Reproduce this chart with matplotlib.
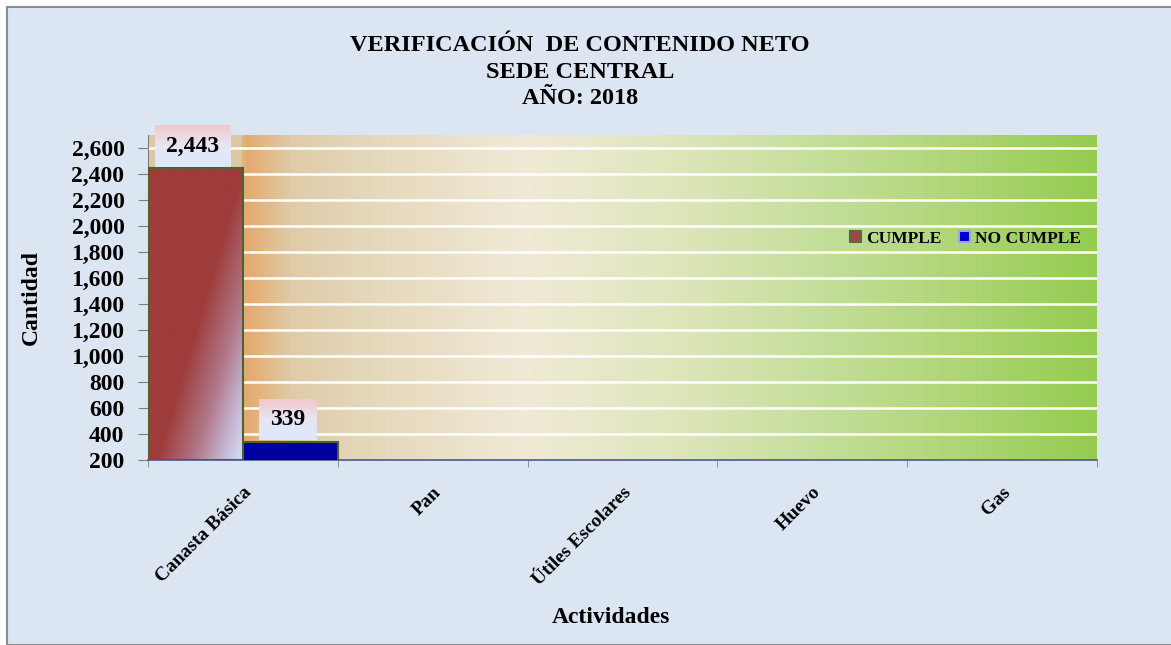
import numpy as np
import matplotlib
matplotlib.use("Agg")
import matplotlib.pyplot as plt
from matplotlib.colors import LinearSegmentedColormap
from matplotlib.patches import Rectangle

categorias = ["Canasta Básica", "Pan", "Útiles Escolares", "Huevo", "Gas"]
cumple = [2443, 0, 0, 0, 0]
no_cumple = [339, 0, 0, 0, 0]
series = ["CUMPLE", "NO CUMPLE"]
titulo = "VERIFICACIÓN  DE CONTENIDO NETO\nSEDE CENTRAL\nAÑO: 2018"
y_ticks = list(range(200, 2601, 200))

plt.rcParams['font.family'] = ['Liberation Serif', 'DejaVu Serif']
plt.rcParams['font.weight'] = 'bold'

fig = plt.figure(figsize=(11.71, 6.45), dpi=100)
fig.patch.set_facecolor('white')
# fondo del grafico con borde
fig.patches.append(Rectangle((7 / 1171, 0), 1.0, 1 - 7 / 645, transform=fig.transFigure,
                             facecolor='#dce6f2', edgecolor='#8c8c8c', lw=1.5, zorder=-10))

ax = fig.add_axes([148 / 1171, 1 - 460 / 645, (1097 - 148) / 1171, (460 - 135) / 645])
XL = (-0.5, len(categorias) - 0.5)
YL = (200, 2700)

# degradado del area de trazado
bg = LinearSegmentedColormap.from_list('bg', [
    (0.0, '#dcc8a4'), (0.095, '#dcc8a4'), (0.1, '#e4a86c'), (0.15, '#dfcba8'),
    (0.22, '#e4d6b8'), (0.4, '#f0ead6'), (0.55, '#dfe6bc'), (0.7, '#c6df9c'),
    (0.85, '#b0d678'), (1.0, '#94cc50')])
gx = np.linspace(0, 1, 800)
grad = np.tile(gx, (40, 1))
ax.imshow(grad, cmap=bg, extent=[XL[0], XL[1], YL[0], YL[1]],
          aspect='auto', origin='lower', zorder=0, interpolation='bilinear')

for yv in y_ticks[1:]:
    ax.axhline(yv, color='white', lw=1.8, zorder=1)

x = np.arange(len(categorias))
b1 = ax.bar(x - 0.25, cumple, width=0.5, color='#9b3b3b', edgecolor='#4f6228',
            lw=1.5, zorder=3, label=series[0])
b2 = ax.bar(x + 0.25, no_cumple, width=0.5, color='#0000a0', edgecolor='#4f6228',
            lw=1.5, zorder=3, label=series[1])

# degradado diagonal rojo -> azul claro en la barra CUMPLE
rojo = LinearSegmentedColormap.from_list('rb', [(0, '#9e3b3b'), (0.45, '#b07a8a'),
                                               (0.72, '#c4b0cc'), (1, '#d2e2fa')])
for rect in b1:
    h = rect.get_height()
    if h <= 200:
        continue
    x0 = rect.get_x()
    w = rect.get_width()
    px = np.linspace(0, 95, 120)
    py = np.linspace(0, (h - 200) / 200 * 26, 300)
    PX, PY = np.meshgrid(px, py)
    s = PX - 0.3 * PY
    t = np.clip((s - 8) / 88, 0, 1)
    im = ax.imshow(t, cmap=rojo, vmin=0, vmax=1, extent=[x0, x0 + w, 200, h],
                   aspect='auto', origin='lower', zorder=3.5, interpolation='bilinear')
    im.set_clip_path(rect)
    ax.add_patch(Rectangle((x0, 200), w, h - 200, fill=False, edgecolor='#4f6228',
                           lw=1.5, zorder=3.6))

ax.set_xlim(*XL)
ax.set_ylim(*YL)

# etiquetas de datos
etiquetas = []
for rects, vals in ((b1, cumple), (b2, no_cumple)):
    for rect, v in zip(rects, vals):
        if v <= 0:
            continue
        t = ax.annotate(f"{v:,}", (rect.get_x() + rect.get_width() / 2, v),
                        xytext=(-2, 16), textcoords='offset points', ha='center', va='center',
                        fontsize=17, fontweight='bold', zorder=7, annotation_clip=False)
        etiquetas.append(t)

ax.set_yticks(y_ticks)
ax.set_yticklabels([f"{v:,}" for v in y_ticks], fontsize=17, fontweight='bold')
ax.set_xticks(x)
ax.set_xticklabels(categorias, rotation=45, ha='right', rotation_mode='anchor',
                   fontsize=14, fontweight='bold')
ax.tick_params(axis='x', length=0, pad=17)
ax.set_xticks(np.arange(-0.5, len(categorias), 1), minor=True)
ax.tick_params(axis='x', which='minor', length=5, color='#7f7f7f', direction='out')
ax.tick_params(axis='y', length=7, color='#7f7f7f', direction='out', pad=10)

for sp in ['top', 'right']:
    ax.spines[sp].set_visible(False)
ax.spines['left'].set_color('#7f7f7f')
ax.spines['bottom'].set_color('#4a5a8a')
ax.spines['bottom'].set_linewidth(1.2)

ax.set_ylabel("Cantidad", fontsize=17, fontweight='bold')
ax.set_xlabel("Actividades", fontsize=17, fontweight='bold')
ax.xaxis.set_label_coords(0.488, -0.452)
ax.yaxis.set_label_coords(-0.112, 0.5)

fig.text(580 / 1171, 1 - 72 / 645, titulo, ha='center', va='center', fontsize=17.5,
         fontweight='bold', linespacing=1.32)

leg = ax.legend(loc='center right', bbox_to_anchor=(1.0, 0.681), ncol=2, frameon=False,
                handlelength=0.65, handleheight=0.65, handletextpad=0.3,
                columnspacing=1.0, prop={'weight': 'bold', 'size': 12.5})
leg.legend_handles[0].set_facecolor('#a04848')
leg.legend_handles[0].set_edgecolor('#5a6a3a')
leg.legend_handles[1].set_facecolor('#0000c8')
leg.legend_handles[1].set_edgecolor('#9aa8d8')

# cajas con degradado detras de las etiquetas de datos
fig.canvas.draw()
renderer = fig.canvas.get_renderer()
caja = LinearSegmentedColormap.from_list('caja', ['#dde8fc', '#e6e6f4', '#f2c8cc'])
inv = ax.transData.inverted()
for t in etiquetas:
    bb = t.get_window_extent(renderer)
    (cx0, cy0) = inv.transform((bb.x0 - 11, bb.y0 - 10))
    (cx1, cy1) = inv.transform((bb.x1 + 11, bb.y1 + 10))
    g = np.linspace(0, 1, 50).reshape(-1, 1)
    ax.imshow(g, cmap=caja, extent=[cx0, cx1, cy0, cy1], aspect='auto', origin='lower',
              zorder=6, clip_on=False, interpolation='bilinear')
ax.set_xlim(*XL)
ax.set_ylim(*YL)

fig.savefig('out.png', dpi=100)
